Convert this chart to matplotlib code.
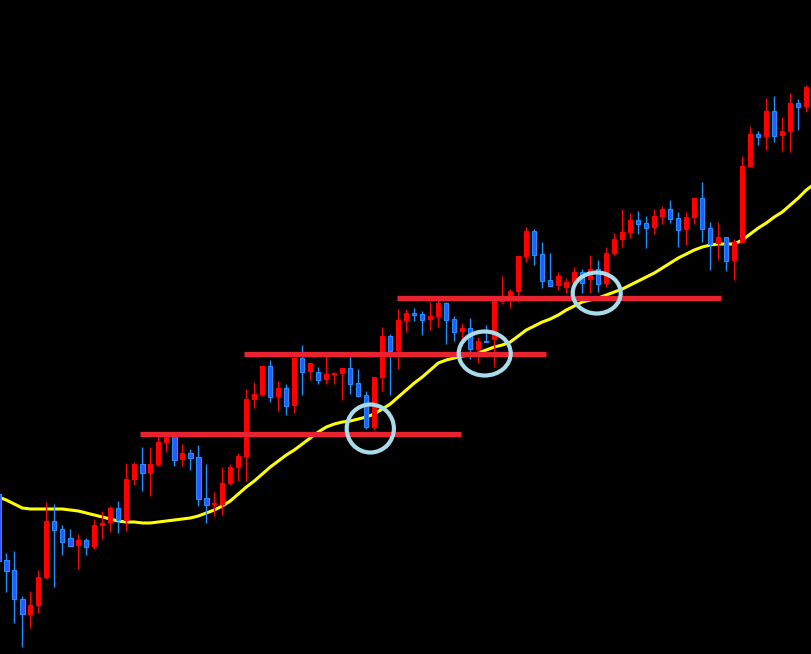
import numpy as np
import matplotlib.pyplot as plt
from matplotlib.patches import Ellipse

# prices (terminal-style scale: bigger number = lower on chart)
# first candle sits just left of the visible area
opens = [494, 560, 570, 599, 615, 606, 578, 521, 529, 538,
         546, 540, 547, 526, 523, 508, 521, 480, 464, 473,
         465, 443, 435, 460, 453, 457, 498, 505, 505, 484,
         468, 457, 400, 395, 366, 397, 388, 406, 358, 372,
         372, 380, 375, 374, 368, 383, 395, 428, 378, 336,
         351, 321, 313, 314, 320, 317, 303, 319, 332, 328,
         350, 341, 340, 302, 300, 292, 257, 231, 254, 280,
         286, 288, 283, 272, 280, 269, 284, 254, 240, 233,
         220, 223, 228, 217, 209, 218, 230, 218, 198, 228,
         244, 237, 261, 243, 167, 134, 137, 111, 136, 132,
         103, 107]
highs = [490, 553, 551, 596, 591, 570, 502, 504, 525, 529,
         534, 538, 519, 511, 506, 501, 463, 462, 447, 447,
         435, 432, 433, 444, 449, 445, 464, 492, 467, 464,
         453, 389, 382, 365, 360, 381, 384, 357, 345, 363,
         367, 355, 372, 368, 356, 369, 391, 377, 327, 334,
         309, 309, 308, 311, 302, 299, 302, 316, 323, 318,
         337, 325, 300, 276, 289, 256, 227, 229, 242, 253,
         272, 278, 267, 269, 255, 260, 247, 233, 209, 213,
         211, 216, 209, 206, 200, 212, 212, 197, 182, 222,
         222, 237, 239, 156, 126, 131, 98, 96, 117, 93,
         99, 85]
lows = [565, 592, 623, 647, 628, 613, 579, 587, 555, 546,
        569, 555, 549, 539, 532, 533, 531, 485, 491, 496,
        466, 452, 466, 466, 470, 506, 523, 516, 515, 485,
        481, 481, 408, 396, 402, 411, 415, 413, 395, 380,
        384, 384, 384, 400, 394, 397, 429, 430, 391, 395,
        369, 332, 321, 335, 330, 327, 344, 341, 340, 359,
        363, 342, 367, 304, 308, 302, 262, 265, 288, 286,
        290, 293, 293, 293, 293, 292, 287, 256, 247, 238,
        234, 248, 234, 224, 223, 247, 245, 224, 242, 270,
        260, 271, 280, 243, 167, 145, 150, 142, 151, 152,
        130, 112]
closes = [561, 571, 599, 614, 605, 577, 521, 530, 542, 546,
          540, 547, 525, 523, 508, 520, 479, 464, 473, 464,
          442, 435, 460, 453, 458, 499, 505, 503, 483, 467,
          456, 399, 394, 366, 397, 388, 406, 358, 372, 363,
          380, 374, 373, 368, 384, 396, 427, 377, 336, 351,
          320, 313, 315, 320, 316, 303, 320, 332, 328, 349,
          341, 342, 301, 299, 291, 256, 231, 255, 281, 286,
          276, 282, 272, 283, 269, 284, 253, 239, 232, 220,
          224, 228, 216, 209, 219, 230, 217, 198, 229, 244,
          237, 261, 242, 166, 134, 137, 111, 136, 131, 103,
          107, 87]

# moving average (yellow), one value per bar plus one past the last bar
ma = [497, 500, 504, 508, 509, 509, 509, 509, 509, 510,
      511, 513, 515, 517, 519, 521, 522, 522, 523, 523,
      522, 521, 520, 519, 518, 516, 513, 510, 506, 501,
      494, 487, 481, 474, 467, 461, 455, 450, 444, 438,
      432, 427, 424, 422, 421, 419, 417, 414, 409, 404,
      397, 390, 383, 377, 370, 363, 360, 358, 356, 355,
      353, 350, 347, 345, 342, 336, 330, 326, 322, 319,
      315, 310, 306, 302, 300, 298, 295, 292, 289, 285,
      281, 277, 273, 268, 263, 258, 254, 250, 247, 245,
      244, 244, 244, 240, 234, 228, 223, 217, 212, 205,
      198, 190, 184]

# drawn support levels: price, first bar, last bar
level_price = [433.5, 353.5, 297.5]
level_start = [16.7, 29.7, 48.8]
level_end = [56.8, 67.5, 89.3]

# retest circles: bar, price
circle_bar = [45.5, 59.8, 73.8]
circle_price = [428.5, 353.5, 293.0]

o = np.array(opens)
h = np.array(highs)
l = np.array(lows)
c = np.array(closes)
x = np.arange(len(o)) - 1
up = c < o  # screen scale is upside down

fig = plt.figure(figsize=(8.12, 6.54), dpi=100, facecolor='black')
ax = fig.add_axes([0, 0, 1, 1])
ax.set_facecolor('black')

ax.plot(np.arange(len(ma)) - 1, ma, color='#FFFF00', lw=2.2, zorder=1)

# wicks
ax.vlines(x[up], l[up], h[up], color='#FF0000', lw=1.0, zorder=2)
ax.vlines(x[~up], l[~up], h[~up], color='#1E90FF', lw=1.0, zorder=2)
# bodies
ax.bar(x[up], c[up] - o[up], bottom=o[up], width=0.62, color='#FF0000',
       linewidth=0, zorder=3)
ax.bar(x[~up], c[~up] - o[~up], bottom=o[~up], width=0.55, color='#3355FF',
       edgecolor='#1E90FF', linewidth=0.8, zorder=3)

for p, a, b in zip(level_price, level_start, level_end):
    ax.plot([a, b], [p, p], color='#E8222E', lw=3.8, solid_capstyle='butt', zorder=4)

# circle sizes in bars / price units
circ_w = [5.9, 6.5, 6.0]
circ_h = [48, 44, 41]
for cx, cy, w, hh in zip(circle_bar, circle_price, circ_w, circ_h):
    ax.add_patch(Ellipse((cx, cy), width=w, height=hh, fill=False,
                         edgecolor='#A8DCEA', lw=3.0, zorder=5))

ax.set_xlim(-0.7875, 100.7125)
ax.set_ylim(654, 0)
ax.axis('off')

fig.savefig('out.png', dpi=100, facecolor='black')
